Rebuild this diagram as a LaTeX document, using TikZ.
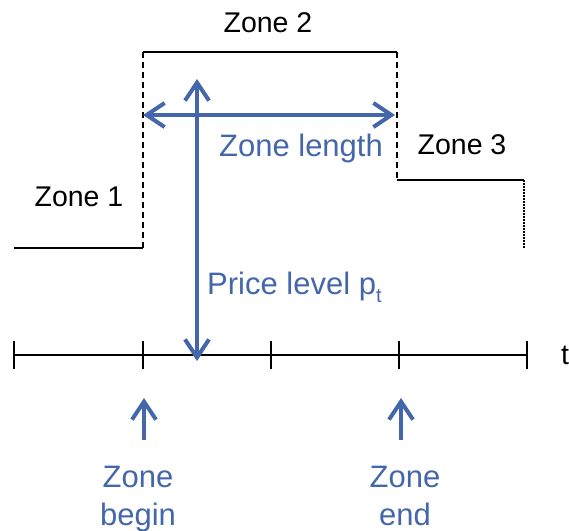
\documentclass[tikz,border=0pt]{standalone}
\usepackage{fontspec}
\setmainfont{Liberation Sans}
\usetikzlibrary{arrows.meta}
\definecolor{zblue}{RGB}{68,102,170}
\begin{document}
\begin{tikzpicture}[x=1pt,y=-1pt,
  level/.style={line width=1.4pt,black},
  jump/.style={line width=1.3pt,black,dash pattern=on 6pt off 4pt},
  tail/.style={line width=1.3pt,black,dash pattern=on 1.5pt off 1.5pt},
  axisline/.style={line width=1.6pt,black},
  marker/.style={line width=4pt,zblue,arrows={-Straight Barb[length=18pt,width=24pt,line width=4pt]}},
  twoway/.style={line width=4pt,zblue,arrows={Straight Barb[length=18pt,width=24pt,line width=4pt]-Straight Barb[length=18pt,width=24pt,line width=4pt]}},
  blacklabel/.style={inner sep=0pt,font=\fontsize{28.5}{34}\selectfont},
  bluelabel/.style={inner sep=0pt,text=zblue,font=\fontsize{31}{37}\selectfont,align=center}]
\useasboundingbox (0,0) rectangle (569,530);

% price path of the zones
\coordinate (z1s) at (14,248);
\coordinate (z1e) at (143,248);
\coordinate (z2s) at (143,52);
\coordinate (z2e) at (397,52);
\coordinate (z3s) at (397,180);
\coordinate (z3e) at (524,180);
\coordinate (z3d) at (524,248);
\draw[level] (z1s) -- (z1e);
\draw[jump] (z1e) -- (z2s);
\draw[level] (z2s) -- (z2e);
\draw[jump] (z2e) -- (z3s);
\draw[level] (z3s) -- (z3e);
\draw[tail] (z3e) -- (z3d);

% time axis with ticks
\coordinate (a0) at (14,355);
\coordinate (a1) at (143,355);
\coordinate (a2) at (271,355);
\coordinate (a3) at (399,355);
\coordinate (a4) at (527,355);
\draw[axisline] (a0) -- (a4);
\foreach \p in {a0,a1,a2,a3,a4}
  \draw[axisline] ([yshift=-14pt]\p) -- ([yshift=14pt]\p);
\node[blacklabel,anchor=west] (tlab) at (561,355) {t};

% zone labels
\node[blacklabel] (zone1) at (79,197) {Zone 1};
\node[blacklabel] (zone2) at (268,23) {Zone 2};
\node[blacklabel] (zone3) at (462,145) {Zone 3};

% zone length and price level
\coordinate (lenL) at (143,115);
\coordinate (lenR) at (395,115);
\draw[twoway] (lenL) -- (lenR);
\node[bluelabel] (lenlab) at (301,148) {Zone length};
\coordinate (pTop) at (197,79);
\coordinate (pBot) at (197,361);
\draw[twoway] (pBot) -- (pTop);
\node[bluelabel,anchor=west] (pricelab) at (207,287) {Price level p{\fontsize{20}{20}\selectfont\raisebox{-8pt}{t}}};

% zone begin and end markers
\coordinate (bTail) at (144,440);
\coordinate (bHead) at (144,398);
\coordinate (eTail) at (401,440);
\coordinate (eHead) at (401,398);
\draw[marker] (bTail) -- (bHead);
\draw[marker] (eTail) -- (eHead);
\node[bluelabel,anchor=north] (beginlab) at (138,466) {Zone\\[1pt]begin};
\node[bluelabel,anchor=north] (endlab) at (405,466) {Zone\\[1pt]end};
\end{tikzpicture}
\end{document}
